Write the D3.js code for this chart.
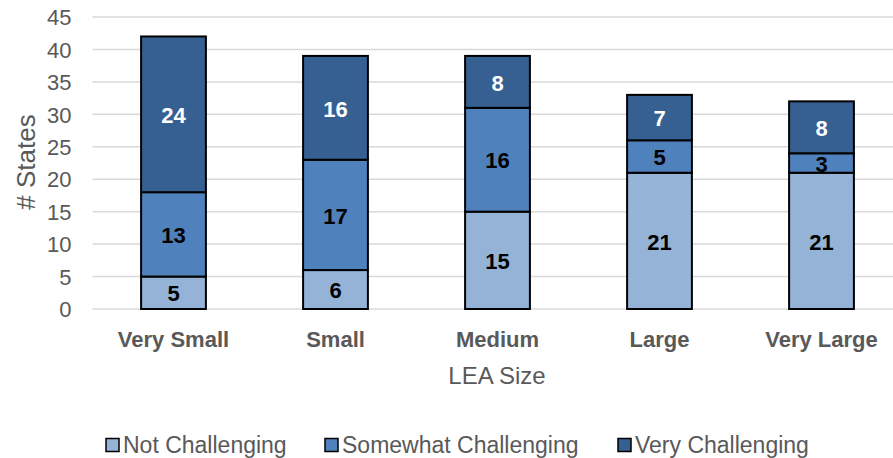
<!DOCTYPE html>
<html>
<head>
<meta charset="utf-8">
<script src="https://cdn.jsdelivr.net/npm/d3@7"></script>
<style>
  html, body { margin: 0; padding: 0; background: #fff; }
  svg { display: block; }
</style>
</head>
<body>
<svg id="chart" width="893" height="458"></svg>
<script>
// LEA size categories and number of states per difficulty rating
const categories = ["Very Small", "Small", "Medium", "Large", "Very Large"];
const notChallenging = [5, 6, 15, 21, 21];
const somewhatChallenging = [13, 17, 16, 5, 3];
const veryChallenging = [24, 16, 8, 7, 8];
const seriesNames = ["Not Challenging", "Somewhat Challenging", "Very Challenging"];
const yTicks = [0, 5, 10, 15, 20, 25, 30, 35, 40, 45];

const colors = ["#95b3d7", "#4f81bd", "#366092"];
const labelColors = ["#000", "#000", "#fff"];

const rows = categories.map((c, i) => ({
  category: c,
  "Not Challenging": notChallenging[i],
  "Somewhat Challenging": somewhatChallenging[i],
  "Very Challenging": veryChallenging[i]
}));

const svg = d3.select("#chart");
const W = 893;
const plotLeft = 92.5, plotRight = 902.5, plotTop = 17, plotBottom = 309;

const x = d3.scaleBand().domain(categories).range([plotLeft, plotRight])
  .paddingInner(0.6).paddingOuter(0.3);
const y = d3.scaleLinear().domain([0, 45]).range([plotBottom, plotTop]);

const textGray = "#595959";
const font = "'Liberation Sans', Arial, sans-serif";

// horizontal gridlines
svg.append("g")
  .selectAll("line")
  .data(yTicks)
  .join("line")
  .attr("x1", plotLeft).attr("x2", W)
  .attr("y1", d => y(d)).attr("y2", d => y(d))
  .attr("stroke", "#d9d9d9").attr("stroke-width", 1.5);

// y axis tick labels
const yAxis = d3.axisLeft(y).tickValues(yTicks).tickSize(0).tickPadding(0);
svg.append("g")
  .attr("transform", `translate(${plotLeft - 21},0)`)
  .call(yAxis)
  .call(g => g.select(".domain").remove())
  .selectAll("text")
  .attr("font-family", font)
  .attr("font-size", 22)
  .attr("fill", textGray)
  .attr("dy", "0.35em");

// stacked bars
const stack = d3.stack().keys(seriesNames);
const layers = stack(rows);

const layerG = svg.append("g")
  .selectAll("g")
  .data(layers)
  .join("g")
  .attr("fill", (d, i) => colors[i]);

layerG.selectAll("rect")
  .data(d => d)
  .join("rect")
  .attr("x", d => x(d.data.category))
  .attr("width", x.bandwidth())
  .attr("y", d => y(d[1]))
  .attr("height", d => y(d[0]) - y(d[1]))
  .attr("stroke", "#000")
  .attr("stroke-width", 2);

// value labels in segment centres
svg.append("g")
  .selectAll("g")
  .data(layers)
  .join("g")
  .attr("fill", (d, i) => labelColors[i])
  .selectAll("text")
  .data(d => d)
  .join("text")
  .attr("x", d => x(d.data.category) + x.bandwidth() / 2)
  .attr("y", d => (y(d[0]) + y(d[1])) / 2 + 1)
  .attr("dy", "0.35em")
  .attr("text-anchor", "middle")
  .attr("font-family", font)
  .attr("font-weight", "bold")
  .attr("font-size", 22)
  .text(d => d[1] - d[0]);

// x axis category labels
const xAxis = d3.axisBottom(x).tickSize(0).tickPadding(0);
svg.append("g")
  .attr("transform", `translate(0,${plotBottom + 30})`)
  .call(xAxis)
  .call(g => g.select(".domain").remove())
  .selectAll("text")
  .attr("font-family", font)
  .attr("font-weight", "bold")
  .attr("font-size", 22)
  .attr("fill", textGray)
  .attr("dy", "0.35em");

// axis titles
svg.append("text")
  .attr("x", 497).attr("y", 376)
  .attr("dy", "0.35em")
  .attr("text-anchor", "middle")
  .attr("font-family", font)
  .attr("font-size", 24)
  .attr("fill", textGray)
  .text("LEA Size");

svg.append("text")
  .attr("transform", `translate(26,162) rotate(-90)`)
  .attr("dy", "0.35em")
  .attr("text-anchor", "middle")
  .attr("font-family", font)
  .attr("font-size", 26)
  .attr("fill", textGray)
  .text("# States");

// legend
const legendX = [106, 325, 618];
const legend = svg.append("g")
  .selectAll("g")
  .data(seriesNames)
  .join("g")
  .attr("transform", (d, i) => `translate(${legendX[i]},445)`);

legend.append("rect")
  .attr("x", 0).attr("y", -6.5)
  .attr("width", 13).attr("height", 13)
  .attr("fill", (d, i) => colors[i])
  .attr("stroke", "#000").attr("stroke-width", 1.5);

legend.append("text")
  .attr("x", 17)
  .attr("dy", "0.35em")
  .attr("font-family", font)
  .attr("font-size", 23)
  .attr("fill", textGray)
  .text(d => d);
</script>
</body>
</html>
